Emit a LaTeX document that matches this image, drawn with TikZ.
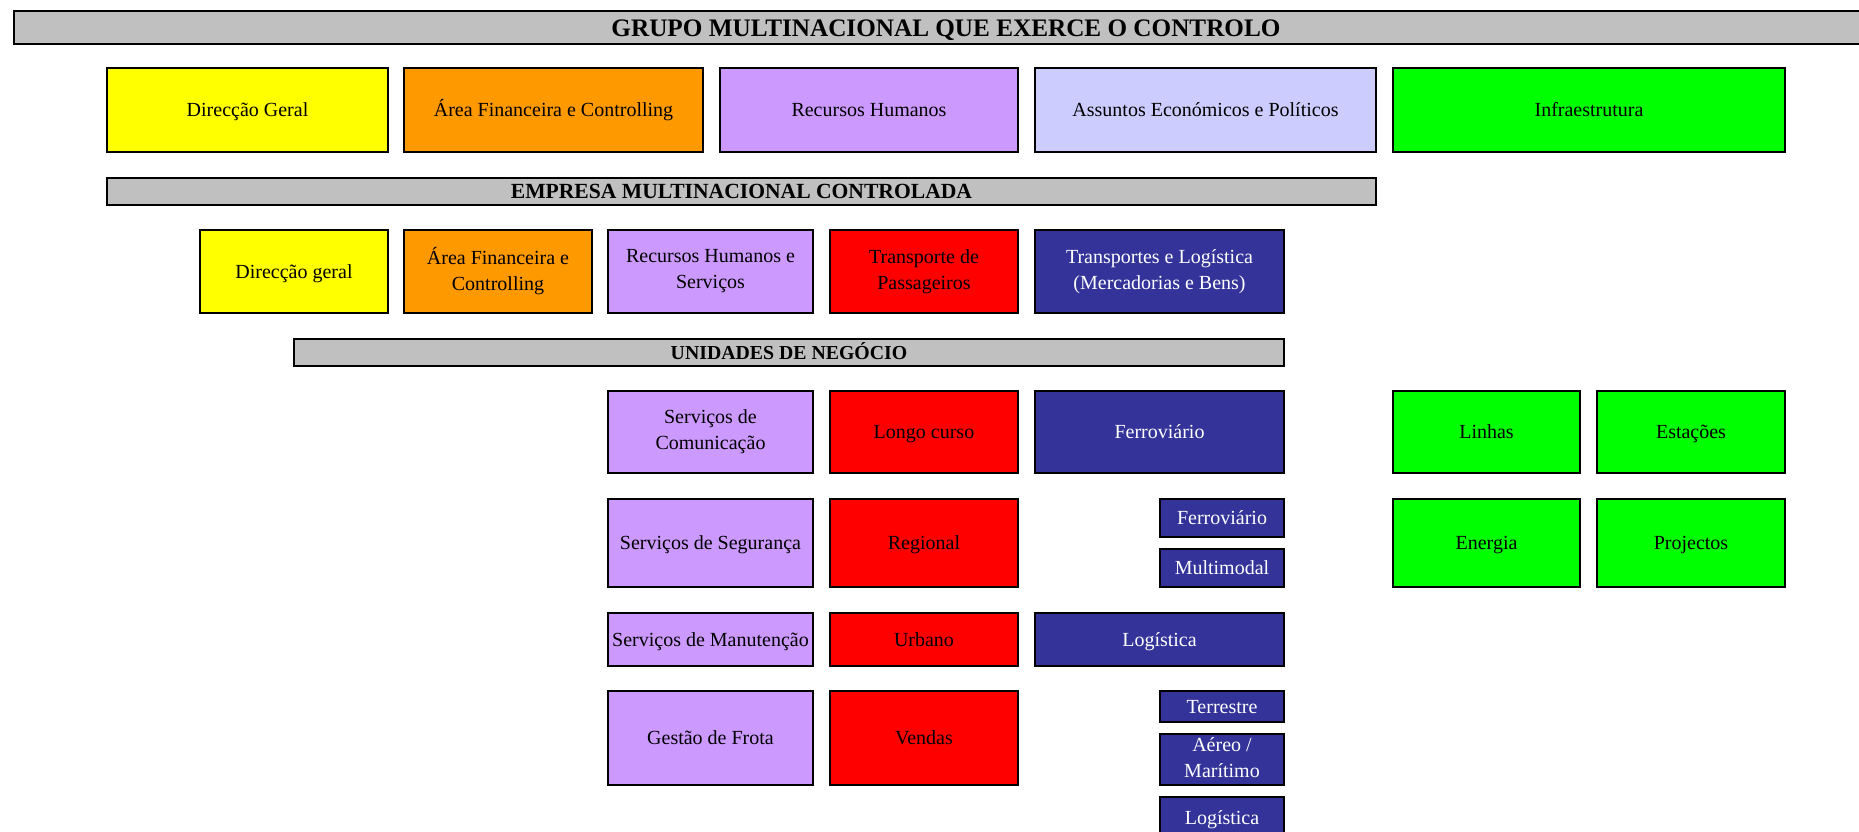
\documentclass[tikz,border=0pt]{standalone}
\usepackage{fontspec}
\setmainfont{Liberation Serif}
\usepackage{tikz}

\definecolor{barGray}{HTML}{C0C0C0}
\definecolor{dirYellow}{HTML}{FFFF00}
\definecolor{finOrange}{HTML}{FF9900}
\definecolor{rhLilac}{HTML}{CC99FF}
\definecolor{aePeri}{HTML}{CCCCFF}
\definecolor{infGreen}{HTML}{00FF00}
\definecolor{passRed}{HTML}{FF0000}
\definecolor{logNavy}{HTML}{333399}

\newcommand{\boxstrut}{\vrule width 0pt height 1.95ex depth 0.48ex\relax}

\tikzset{
  box/.style={draw=black, line width=1.2pt, inner sep=0pt, outer sep=0pt,
    align=center, font=\fontsize{10}{13}\selectfont, text=black,
    execute at begin node=\boxstrut, execute at end node=\boxstrut},
  barbox/.style={box, fill=barGray},
  dirbox/.style={box, fill=dirYellow},
  finbox/.style={box, fill=finOrange},
  rhbox/.style={box, fill=rhLilac},
  aebox/.style={box, fill=aePeri},
  infbox/.style={box, fill=infGreen},
  passbox/.style={box, fill=passRed},
  logbox/.style={box, fill=logNavy, text=white}
}

% box from (x1,y1) to (x2,y2), pixel units
\newcommand{\orgbox}[7]{%
  \node[#2, minimum width={(#5-#3)*0.5pt}, minimum height={(#6-#4)*0.5pt}]
    (#1) at ({(#3+#5)/2}, {(#4+#6)/2}) {#7};}

\begin{document}
\begin{tikzpicture}[x=0.5pt, y=-0.5pt]
            \useasboundingbox (0,0) rectangle (1859,831);

            % Column edges
            \def\cA{608}  \def\cB{813}   % services
            \def\cC{830}  \def\cD{1018}  % passengers
            \def\cE{1035} \def\cF{1284}  % logistics
            \def\cG{1160}                % logistics sub-units
            \def\cH{1393} \def\cI{1580}  % infrastructure
            \def\cJ{1597} \def\cK{1785}

            % Group level
            \orgbox{grupo}{barbox, font=\fontsize{12.6}{14}\selectfont\bfseries}{14}{11}{1878}{44}{GRUPO MULTINACIONAL QUE EXERCE O CONTROLO}
            \orgbox{gDir}{dirbox}{107}{68}{388}{152}{Direcção Geral}
            \orgbox{gFin}{finbox}{404}{68}{703}{152}{Área Financeira e Controlling}
            \orgbox{gRH}{rhbox}{720}{68}{1018}{152}{Recursos Humanos}
            \orgbox{gAE}{aebox}{\cE}{68}{1376}{152}{Assuntos Económicos e Políticos}
            \orgbox{gInf}{infbox}{\cH}{68}{\cK}{152}{Infraestrutura}

            % Controlled company
            \orgbox{empresa}{barbox, font=\fontsize{10.8}{13}\selectfont\bfseries}{107}{178}{1376}{205}{EMPRESA MULTINACIONAL CONTROLADA}
            \orgbox{eDir}{dirbox}{200}{230}{388}{313}{Direcção geral}
            \orgbox{eFin}{finbox}{404}{230}{592}{313}{Área Financeira e\\Controlling}
            \orgbox{eRH}{rhbox}{\cA}{230}{\cB}{313}{Recursos Humanos e\\Serviços}
            \orgbox{ePass}{passbox}{\cC}{230}{\cD}{313}{Transporte de\\Passageiros}
            \orgbox{eLog}{logbox}{\cE}{230}{\cF}{313}{Transportes e Logística\\(Mercadorias e Bens)}

            % Business units
            \orgbox{unidades}{barbox, font=\fontsize{9.9}{12}\selectfont\bfseries}{294}{339}{\cF}{366}{UNIDADES DE NEGÓCIO}

            \orgbox{uCom}{rhbox}{\cA}{391}{\cB}{473}{Serviços de\\Comunicação}
            \orgbox{uSeg}{rhbox}{\cA}{499}{\cB}{587}{Serviços de Segurança}
            \orgbox{uMan}{rhbox}{\cA}{613}{\cB}{666}{Serviços de Manutenção}
            \orgbox{uFrota}{rhbox}{\cA}{691}{\cB}{785}{Gestão de Frota}

            \orgbox{uLongo}{passbox}{\cC}{391}{\cD}{473}{Longo curso}
            \orgbox{uReg}{passbox}{\cC}{499}{\cD}{587}{Regional}
            \orgbox{uUrb}{passbox}{\cC}{613}{\cD}{666}{Urbano}
            \orgbox{uVend}{passbox}{\cC}{691}{\cD}{785}{Vendas}

            \orgbox{uFerr}{logbox}{\cE}{391}{\cF}{473}{Ferroviário}
            \orgbox{uFerrB}{logbox}{\cG}{499}{\cF}{537}{Ferroviário}
            \orgbox{uMulti}{logbox}{\cG}{549}{\cF}{587}{Multimodal}
            \orgbox{uLogi}{logbox}{\cE}{613}{\cF}{666}{Logística}
            \orgbox{uTerr}{logbox}{\cG}{691}{\cF}{722}{Terrestre}
            \orgbox{uAereo}{logbox}{\cG}{734}{\cF}{785}{Aéreo /\\Marítimo}
            \orgbox{uLogiB}{logbox}{\cG}{797}{\cF}{838}{Logística}

            \orgbox{uLinhas}{infbox}{\cH}{391}{\cI}{473}{Linhas}
            \orgbox{uEstac}{infbox}{\cJ}{391}{\cK}{473}{Estações}
            \orgbox{uEnerg}{infbox}{\cH}{499}{\cI}{587}{Energia}
            \orgbox{uProj}{infbox}{\cJ}{499}{\cK}{587}{Projectos}
\end{tikzpicture}
\end{document}
